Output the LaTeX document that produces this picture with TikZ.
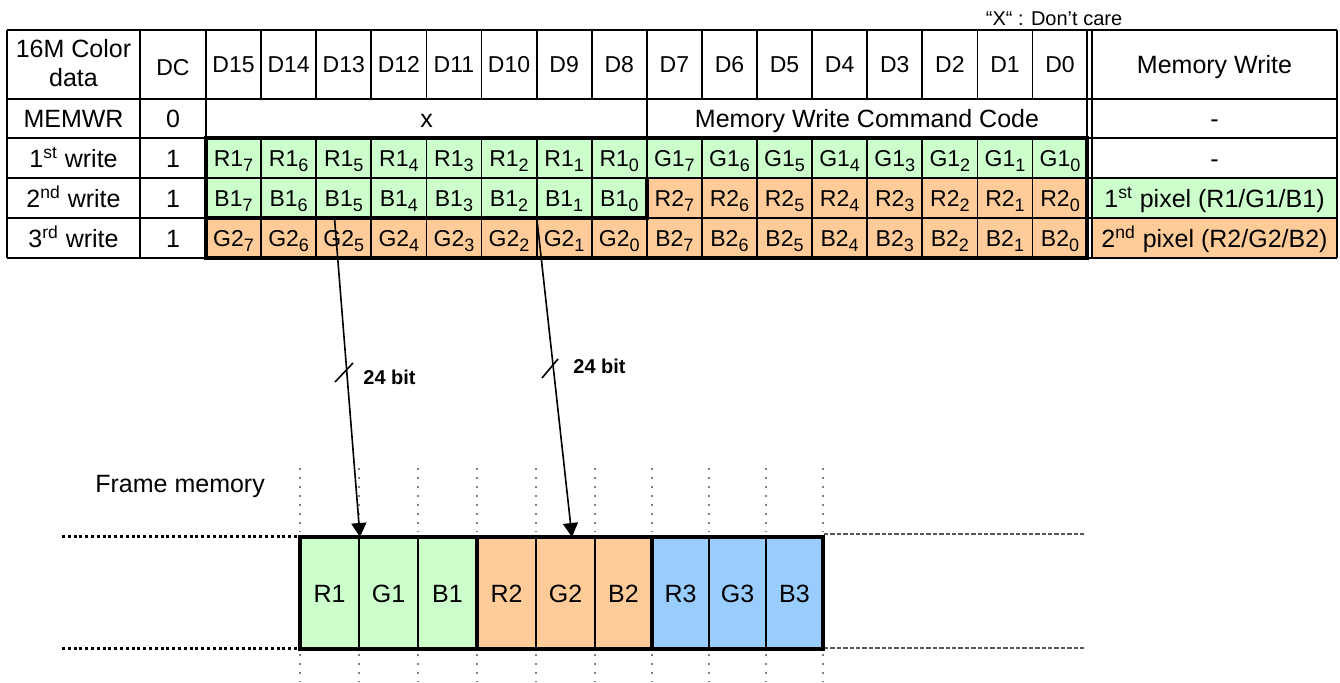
\documentclass[tikz,border=0pt]{standalone}
\usepackage{fontspec}
\setmainfont{Liberation Sans}
\usepackage{tikz}
\usetikzlibrary{arrows.meta}

\definecolor{grn}{HTML}{CCFFCC}
\definecolor{org}{HTML}{FFCC99}
\definecolor{blu}{HTML}{99CCFF}

\newcommand\bsub[1]{\raisebox{-2.8pt}{\fontsize{9}{10}\selectfont #1}}

\tikzset{
  tl/.style={line width=0.9pt},
  tk/.style={line width=2.3pt},
  fl/.style={line width=0.9pt},
  bit/.style={inner sep=0pt, font=\fontsize{11.5}{13}\selectfont, text height=8.2pt, text depth=0pt},
  lbl/.style={inner sep=0pt, font=\fontsize{12.5}{15}\selectfont, text height=9pt, text depth=0pt},
  fmtxt/.style={inner sep=0pt, font=\fontsize{12.5}{15}\selectfont, text height=9pt, text depth=0pt},
  wlbl/.style={inner sep=0pt, font=\fontsize{10}{12}\selectfont\bfseries},
  arr/.style={line width=0.8pt, -{Triangle[length=7pt,width=7.5pt]}},
  vdot/.style={line width=0.7pt, gray, dash pattern=on 0.9pt off 3.6pt},
  bdot/.style={line width=1.5pt, dash pattern=on 1.5pt off 1.4pt},
  gdash/.style={line width=0.8pt, black!65, dash pattern=on 2.2pt off 1pt},
}

\begin{document}
\begin{tikzpicture}[x=0.5pt,y=-0.5pt]
  \useasboundingbox (0,0) rectangle (1340,682);

  \fill[grn] (206,138) rectangle (1087,178);
  \fill[grn] (206,178) rectangle (647,218);
  \fill[org] (647,178) rectangle (1087,218);
  \fill[org] (206,218) rectangle (1087,258);
  \fill[grn] (1092,178) rectangle (1337,218);
  \fill[org] (1092,218) rectangle (1337,258);

  \foreach \y in {30,99,138,178,218,258} \draw[tl] (7,\y) -- (1337,\y);
  \foreach \x in {7,140,206,1087,1092,1337} \draw[tl] (\x,30) -- (\x,258);
  \foreach \i in {1,...,15} {
    \pgfmathsetmacro\x{206+55.1*\i}
    \draw[tl] (\x,30) -- (\x,99);
    \draw[tl] (\x,138) -- (\x,258);
  }
  \draw[tl] (647,99) -- (647,138);
  \draw[tk] (206,138) rectangle (1087,258);
  \draw[tk] (206,218) -- (647,218) -- (647,178);

  \node[inner sep=0pt, align=center, font=\fontsize{12.5}{14.5}\selectfont] (hdata) at (73.5,63) {16M Color\\data};
  \node[bit] (hdc) at (173,67) {DC};
  \node[lbl] (hmw) at (1214.5,64.5) {Memory Write};
  \node[inner sep=0pt, font=\fontsize{10}{12}\selectfont] (xnote) at (1054,19) {“X“ : Don’t care};

  \foreach \i in {0,...,15} {
    \pgfmathtruncatemacro\n{15-\i}
    \pgfmathsetmacro\cx{233.55+55.1*\i}
    \node[bit] (d\n) at (\cx,64.5) {D\n};
  }

  \node[lbl] (rmemwr) at (73.5,118.5) {MEMWR};
  \node[lbl] (dcmemwr) at (173,118.5) {0};
  \node[lbl] (xhi) at (426.5,118.5) {x};
  \node[lbl] (cmdcode) at (867,118.5) {Memory Write Command Code};
  \node[lbl] (mwdash0) at (1214.5,118.5) {-};

  \node[lbl] (rw1) at (73.5,158) {1\textsuperscript{st} write};
  \node[lbl] (rw2) at (73.5,198) {2\textsuperscript{nd} write};
  \node[lbl] (rw3) at (73.5,238) {3\textsuperscript{rd} write};
  \node[lbl] (dc1) at (173,158) {1};
  \node[lbl] (dc2) at (173,198) {1};
  \node[lbl] (dc3) at (173,238) {1};
  \node[lbl] (mwdash1) at (1214.5,158) {-};
  \node[lbl] (px1) at (1214.5,198) {1\textsuperscript{st} pixel (R1/G1/B1)};
  \node[lbl] (px2) at (1214.5,238) {2\textsuperscript{nd} pixel (R2/G2/B2)};

  \foreach \i in {0,...,7} {
    \pgfmathtruncatemacro\b{7-\i}
    \pgfmathsetmacro\ca{233.55+55.1*\i}
    \pgfmathsetmacro\cb{233.55+55.1*(\i+8)}
    \node[bit] (ra\b) at (\ca,158) {R1\bsub{\b}};
    \node[bit] (ga\b) at (\cb,158) {G1\bsub{\b}};
    \node[bit] (ba\b) at (\ca,198) {B1\bsub{\b}};
    \node[bit] (rb\b) at (\cb,198) {R2\bsub{\b}};
    \node[bit] (gb\b) at (\ca,238) {G2\bsub{\b}};
    \node[bit] (bb\b) at (\cb,238) {B2\bsub{\b}};
  }

  \node[fmtxt, anchor=west] (fmlabel) at (95,483) {Frame memory};

  \foreach \x in {300,359,418,477,536,595,652,709,766,823} {
    \draw[vdot] (\x,468) -- (\x,532);
    \draw[vdot] (\x,654) -- (\x,682);
  }
  \draw[bdot] (62,536) -- (300,536);
  \draw[bdot] (62,648) -- (300,648);
  \draw[gdash] (824,534) -- (1085,534);
  \draw[gdash] (824,648) -- (1085,648);

  \fill[grn] (300,537) rectangle (477,649);
  \fill[org] (477,537) rectangle (652,649);
  \fill[blu] (652,537) rectangle (823,649);
  \foreach \x in {359,418,536,595,709,766} \draw[fl] (\x,537) -- (\x,649);
  \draw[tk] (300,537) rectangle (823,649);
  \draw[tk] (477,537) -- (477,649);
  \draw[tk] (652,537) -- (652,649);

  \foreach \x/\t in {329.5/R1,388.5/G1,447.5/B1,506.5/R2,565.5/G2,623.5/B2,680.5/R3,737.5/G3,794.5/B3}
    \node[fmtxt] (fm\t) at (\x,593) {\t};

  \coordinate (src1) at (334.5,218);
  \coordinate (dst1) at (360,537);
  \coordinate (src2) at (536.8,218);
  \coordinate (dst2) at (572,537);
  \draw[arr] (src1) -- (dst1);
  \draw[arr] (src2) -- (dst2);
  \draw[line width=0.8pt] (335,382) -- (353,363);
  \draw[line width=0.8pt] (542,378) -- (558,359);
  \node[wlbl] (bits1) at (389.5,377) {24 bit};
  \node[wlbl] (bits2) at (599.5,366) {24 bit};
\end{tikzpicture}
\end{document}
